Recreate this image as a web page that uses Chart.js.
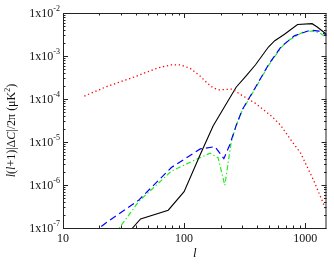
<!DOCTYPE html>
<html>
<head>
<meta charset="utf-8">
<script src="https://cdn.jsdelivr.net/npm/chart.js@4"></script>
<style>
  html, body { margin: 0; padding: 0; background: #fff; }
  #wrap { width: 334px; height: 275px; }
</style>
</head>
<body>
<div id="wrap"><canvas id="chart" width="334" height="275"></canvas></div>
<script>
// multipole l and l(l+1)|dC|/2pi for each curve
const redL = [15, 23, 37.5, 61, 78, 94, 113, 136, 154, 174, 197, 252, 285, 389, 528, 631, 764, 918, 1176, 1500];
const redV = [1.17e-4, 1.95e-4, 3.15e-4, 5.3e-4, 6.2e-4, 6.2e-4, 5.1e-4, 3.4e-4, 2.4e-4, 1.8e-4, 1.63e-4, 1.7e-4, 1.33e-4, 7.9e-5, 4.0e-5, 2.4e-5, 1.1e-5, 5.5e-6, 1.27e-6, 2.5e-7];

const blackL = [33, 37.5, 43.7, 74, 100, 136, 174, 269, 324, 389, 497, 561, 675, 865, 1140, 1250, 1500];
const blackV = [6e-8, 1e-7, 1.62e-7, 2.6e-7, 7e-7, 5.1e-6, 2.4e-5, 1.88e-4, 3.4e-4, 6.25e-4, 1.62e-3, 2.27e-3, 3.2e-3, 5.4e-3, 5.65e-3, 4.8e-3, 3.2e-3];

const blueL = [18, 20, 23, 42.4, 78.5, 136, 180, 213, 238, 269, 302, 389, 497, 631, 813, 1105, 1300, 1500];
const blueV = [7e-8, 1e-7, 1.36e-7, 4.5e-7, 2.55e-6, 6.9e-6, 7.8e-6, 4.1e-6, 8.5e-6, 2.4e-5, 5.6e-5, 1.88e-4, 6.25e-4, 1.62e-3, 2.94e-3, 4e-3, 3.8e-3, 3.1e-3];

const greenL = [27, 29.2, 42.4, 78.5, 120, 164, 191, 217, 245, 269, 302, 389, 497, 631, 719, 980, 1140, 1300, 1500];
const greenV = [7e-8, 1e-7, 4.2e-7, 2.1e-6, 3.7e-6, 5.5e-6, 4.3e-6, 9.8e-7, 1e-5, 2.4e-5, 5.4e-5, 1.8e-4, 6e-4, 1.55e-3, 2.27e-3, 3.7e-3, 3.8e-3, 3.5e-3, 2.7e-3];

const xTicks = [10, 100, 1000];
const yExps = [-2, -3, -4, -5, -6, -7];

const FONT = '"Liberation Serif", "DejaVu Serif", serif';
const pts = (xs, ys) => xs.map((x, i) => ({ x, y: ys[i] }));

// frame, inward ticks, tick labels and axis titles
const axesPlugin = {
  id: 'axesPlugin',
  afterDatasetsDraw(chart) {
    const { ctx, chartArea: a, scales: { x, y } } = chart;
    ctx.save();
    ctx.strokeStyle = '#222';
    ctx.lineWidth = 1;
    ctx.strokeRect(a.left + 0.5, a.top + 0.5, a.right - a.left - 1, a.bottom - a.top);

    ctx.beginPath();
    for (let e = 1; e <= 3; e++) {
      for (let m = 1; m <= 9; m++) {
        const v = m * Math.pow(10, e);
        if (v < 10 || v > 1500) continue;
        const px = Math.round(x.getPixelForValue(v)) + 0.5;
        const len = m === 1 ? 5 : 2.5;
        ctx.moveTo(px, a.bottom); ctx.lineTo(px, a.bottom - len);
        ctx.moveTo(px, a.top); ctx.lineTo(px, a.top + len);
      }
    }
    for (let e = -7; e <= -2; e++) {
      for (let m = 1; m <= 9; m++) {
        const v = m * Math.pow(10, e);
        if (v > 1.0001e-2) continue;
        const py = Math.round(y.getPixelForValue(v)) + 0.5;
        const len = m === 1 ? 5 : 2.5;
        ctx.moveTo(a.left, py); ctx.lineTo(a.left + len, py);
        ctx.moveTo(a.right, py); ctx.lineTo(a.right - len, py);
      }
    }
    ctx.stroke();

    ctx.fillStyle = '#111';
    ctx.font = '12px ' + FONT;
    ctx.textAlign = 'center';
    ctx.textBaseline = 'middle';
    xTicks.forEach((t) => ctx.fillText(String(t), x.getPixelForValue(t), a.bottom + 11));

    yExps.forEach((e) => {
      const py = y.getPixelForValue(Math.pow(10, e));
      const sup = String(e);
      ctx.font = '8px ' + FONT;
      const sw = ctx.measureText(sup).width;
      ctx.textAlign = 'right';
      ctx.fillText(sup, a.left - 3, py - 4);
      ctx.font = '12px ' + FONT;
      ctx.fillText('1x10', a.left - 3 - sw, py + 1);
    });

    ctx.font = 'italic 13px ' + FONT;
    ctx.textAlign = 'center';
    ctx.fillText('l', (a.left + a.right) / 2, a.bottom + 26);

    // y title, drawn in pieces for italic l and superscript 2
    const parts = [
      ['italic 12px ', 'l', 0], ['12px ', '(', 0], ['italic 12px ', 'l', 0], ['12px ', '+1)|Δ', 0],
      ['italic 12px ', 'C', 0], ['12px ', '|/2π (μK', 0], ['8px ', '2', -4], ['12px ', ')', 0],
    ];
    let total = 0;
    parts.forEach((p) => { ctx.font = p[0] + FONT; total += ctx.measureText(p[1]).width; });
    ctx.translate(12, (a.top + a.bottom) / 2 + 10);
    ctx.rotate(-Math.PI / 2);
    ctx.textAlign = 'left';
    let cx = -total / 2;
    parts.forEach((p) => {
      ctx.font = p[0] + FONT;
      ctx.fillText(p[1], cx, p[2]);
      cx += ctx.measureText(p[1]).width;
    });
    ctx.restore();
  },
};

new Chart(document.getElementById('chart'), {
  type: 'scatter',
  data: {
    datasets: [
      { label: 'red', data: pts(redL, redV), borderColor: '#ff0000', borderWidth: 1.3, borderDash: [1.3, 2.7] },
      { label: 'black', data: pts(blackL, blackV), borderColor: '#000000', borderWidth: 1.1 },
      { label: 'blue', data: pts(blueL, blueV), borderColor: '#0000ff', borderWidth: 1.2, borderDash: [7, 4] },
      { label: 'green', data: pts(greenL, greenV), borderColor: '#22ee22', borderWidth: 1.2, borderDash: [5, 2.5, 1.3, 2.5] },
    ].map((d) => ({ ...d, showLine: true, pointRadius: 0, tension: 0, fill: false })),
  },
  options: {
    responsive: false,
    animation: false,
    layout: { padding: { left: 55, right: 7.5, top: 13, bottom: 39 } },
    plugins: { legend: { display: false }, tooltip: { enabled: false } },
    scales: {
      x: {
        type: 'logarithmic', min: 10, max: 1500,
        ticks: { display: false }, grid: { display: false }, border: { display: false },
      },
      y: {
        type: 'logarithmic', min: 1e-7, max: 1e-2,
        ticks: { display: false }, grid: { display: false }, border: { display: false },
      },
    },
  },
  plugins: [axesPlugin],
});
</script>
</body>
</html>
